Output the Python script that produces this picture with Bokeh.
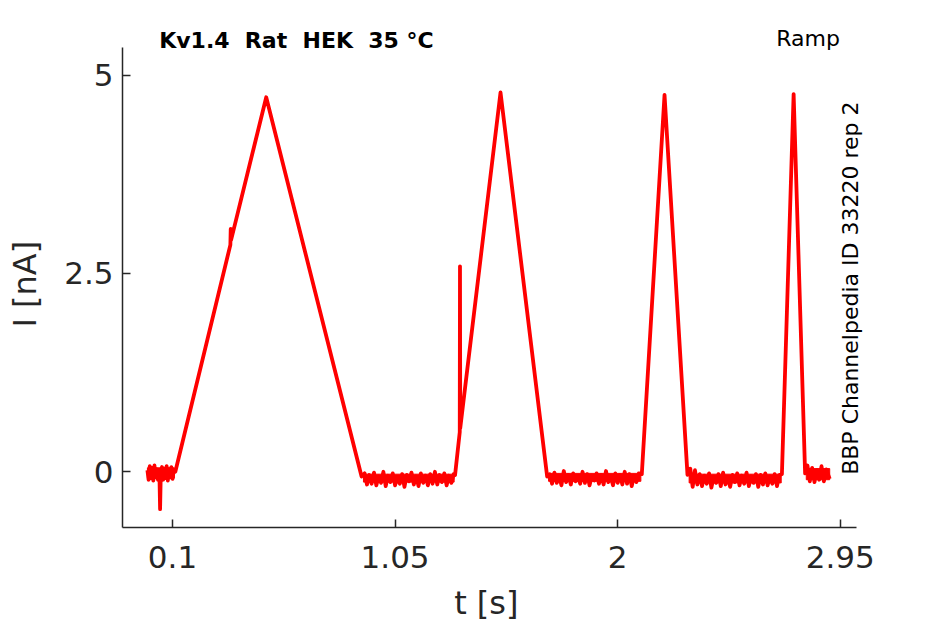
import math
from bokeh.plotting import figure
from bokeh.models import Range1d, FixedTicker, Label, ColumnDataSource
from bokeh.embed import file_html
from bokeh.resources import INLINE

# ---------------- data ----------------
title_text = "Kv1.4\u00a0 Rat\u00a0 HEK\u00a0 35 °C"
protocol_text = "Ramp"
side_text = "BBP Channelpedia ID 33220 rep 2"
x_label = "t [s]"
y_label = "I [nA]"
x_ticks = [0.1, 1.05, 2.0, 2.95]
x_tick_labels = ["0.1", "1.05", "2", "2.95"]
y_ticks = [0, 2.5, 5]
y_tick_labels = ["0", "2.5", "5"]

# holding period before the first ramp (s, nA)
pre_t = [-0.007, -0.002, 0.003, 0.008, 0.013, 0.018, 0.023, 0.028, 0.033, 0.038,
         0.044, 0.047, 0.050, 0.055, 0.060, 0.065, 0.070, 0.075, 0.080, 0.085,
         0.090, 0.095, 0.100, 0.105]
pre_i = [0.02, -0.10, 0.07, -0.08, 0.05, -0.11, 0.08, -0.07, 0.03, -0.10,
         0.00, -0.47, -0.02, 0.06, -0.10, 0.04, -0.08, 0.07, -0.11, 0.03,
         -0.07, 0.06, -0.09, 0.01]

# ramp 1 (slow)
ramp1_t = [0.112, 0.347, 0.3485, 0.350, 0.500, 0.907]
ramp1_i = [0.00, 2.86, 3.06, 2.92, 4.72, -0.06]

base1_t = [0.92, 0.93, 0.94, 0.95, 0.96, 0.97, 0.98, 0.99, 1.00, 1.01,
           1.02, 1.03, 1.04, 1.05, 1.06, 1.07, 1.08, 1.09, 1.10, 1.11,
           1.12, 1.13, 1.14, 1.15, 1.16, 1.17, 1.18, 1.19, 1.20, 1.21,
           1.22, 1.23, 1.24, 1.25, 1.26, 1.27, 1.28, 1.29, 1.30]
base1_i = [-0.02, -0.16, -0.04, -0.15, -0.01, -0.17, -0.06, -0.14, 0.00, -0.18,
           -0.05, -0.13, -0.02, -0.17, -0.07, -0.15, -0.03, -0.19, -0.04, -0.12,
           -0.01, -0.16, -0.06, -0.18, -0.02, -0.14, -0.05, -0.17, -0.03, -0.15,
           0.00, -0.16, -0.04, -0.13, -0.02, -0.17, -0.05, -0.14, -0.03]

# ramp 2 (with a one-sample artefact on the rising phase)
ramp2_t = [1.306, 1.326, 1.327, 1.328, 1.500, 1.699]
ramp2_i = [-0.04, 0.50, 2.59, 0.55, 4.78, -0.06]

base2_t = [1.71, 1.72, 1.73, 1.74, 1.75, 1.76, 1.77, 1.78, 1.79, 1.80,
           1.81, 1.82, 1.83, 1.84, 1.85, 1.86, 1.87, 1.88, 1.89, 1.90,
           1.91, 1.92, 1.93, 1.94, 1.95, 1.96, 1.97, 1.98, 1.99, 2.00,
           2.01, 2.02, 2.03, 2.04, 2.05, 2.06, 2.07, 2.08, 2.09]
base2_i = [-0.03, -0.15, -0.01, -0.14, -0.05, -0.17, 0.01, -0.13, -0.04, -0.16,
           -0.02, -0.12, -0.06, -0.15, 0.00, -0.14, -0.03, -0.17, -0.05, -0.11,
           -0.02, -0.15, -0.04, -0.16, 0.01, -0.13, -0.06, -0.17, -0.02, -0.14,
           -0.04, -0.16, 0.00, -0.15, -0.03, -0.18, -0.05, -0.13, -0.02]

# ramp 3
ramp3_t = [2.103, 2.200, 2.298]
ramp3_i = [-0.03, 4.75, -0.04]

base3_t = [2.31, 2.32, 2.33, 2.34, 2.35, 2.36, 2.37, 2.38, 2.39, 2.40,
           2.41, 2.42, 2.43, 2.44, 2.45, 2.46, 2.47, 2.48, 2.49, 2.50,
           2.51, 2.52, 2.53, 2.54, 2.55, 2.56, 2.57, 2.58, 2.59, 2.60,
           2.61, 2.62, 2.63, 2.64, 2.65, 2.66, 2.67, 2.68, 2.69]
base3_i = [0.04, -0.19, 0.02, -0.16, -0.03, -0.18, -0.05, -0.15, -0.02, -0.20,
           -0.06, -0.14, -0.03, -0.18, -0.01, -0.16, -0.07, -0.19, -0.04, -0.13,
           -0.02, -0.17, -0.05, -0.15, -0.01, -0.18, -0.06, -0.14, -0.03, -0.19,
           -0.04, -0.16, -0.02, -0.17, -0.06, -0.15, -0.03, -0.18, -0.04]

# ramp 4 (fast)
ramp4_t = [2.701, 2.751, 2.800]
ramp4_i = [-0.03, 4.76, -0.02]

base4_t = [2.81, 2.82, 2.83, 2.84, 2.85, 2.86, 2.87, 2.88, 2.89, 2.905]
base4_i = [0.08, -0.12, 0.05, -0.13, 0.02, -0.10, 0.07, -0.12, 0.03, -0.09]

# dense core of the noise band of the overlaid sweeps at holding potential
band_t0 = [-0.007, 0.915, 1.705, 2.305, 2.805]
band_t1 = [0.108, 1.302, 2.099, 2.698, 2.905]
band_lo = [-0.08, -0.13, -0.12, -0.14, -0.10]
band_hi = [0.05, -0.03, -0.02, -0.03, 0.04]

# ---------------- assemble trace ----------------
t_all = pre_t + ramp1_t + base1_t + ramp2_t + base2_t + ramp3_t + base3_t + ramp4_t + base4_t
i_all = pre_i + ramp1_i + base1_i + ramp2_i + base2_i + ramp3_i + base3_i + ramp4_i + base4_i
src = ColumnDataSource(data=dict(t=t_all, i=i_all))
band_src = ColumnDataSource(data=dict(left=band_t0, right=band_t1,
                                      bottom=band_lo, top=band_hi))

FONT = "DejaVu Sans"
DARK = "#262626"
PAD = "\u00a0\u00a0"           # keeps axis titles centred on the drawn axes

X0, X1 = -0.1134, 3.0213      # visible axis extent
Y0, Y1 = -0.702, 5.348
PX_X = 234.3                   # px per s
PX_Y = 79.35                   # px per nA
FW, FH = 748, 507              # frame (a bit larger than the axes, room for texts)

p = figure(frame_width=FW, frame_height=FH,
           x_range=Range1d(X0, X0 + FW / PX_X), y_range=Range1d(Y0, Y0 + FH / PX_Y),
           output_backend="svg", toolbar_location=None,
           min_border_left=122, min_border_top=20, min_border_right=20,
           min_border_bottom=110)
p.outline_line_color = None
p.grid.visible = False
p.background_fill_color = "white"
p.border_fill_color = "white"

p.quad(left="left", right="right", bottom="bottom", top="top", source=band_src,
       fill_color="#ff0000", line_color="#ff0000", line_width=1)
p.line("t", "i", source=src, line_color="#ff0000", line_width=3.8,
       line_join="round")

for ax in (p.xaxis[0], p.yaxis[0]):
    ax.axis_line_color = DARK
    ax.axis_line_width = 1.5
    ax.major_tick_line_color = DARK
    ax.major_tick_line_width = 1.5
    ax.major_tick_in = 8
    ax.major_tick_out = 0
    ax.minor_tick_line_color = None
    ax.major_label_text_font = FONT
    ax.major_label_text_font_size = "31px"
    ax.major_label_text_color = DARK
    ax.axis_label_text_font = FONT
    ax.axis_label_text_font_size = "32px"
    ax.axis_label_text_font_style = "normal"
    ax.axis_label_text_color = DARK

p.xaxis.bounds = (X0, X1)
p.yaxis.bounds = (Y0, Y1)
p.xaxis.ticker = FixedTicker(ticks=x_ticks)
p.xaxis.major_label_overrides = {k: v for k, v in zip(x_ticks, x_tick_labels)}
p.yaxis.ticker = FixedTicker(ticks=y_ticks)
p.yaxis.major_label_overrides = {k: v for k, v in zip(y_ticks, y_tick_labels)}
p.xaxis.axis_label = x_label + PAD
p.yaxis.axis_label = y_label + PAD
p.xaxis.major_label_standoff = 18
p.xaxis.axis_label_standoff = 13
p.yaxis.major_label_standoff = 9
p.yaxis.axis_label_standoff = 17

p.add_layout(Label(x=0.0432, y=5.441, text=title_text, text_font=FONT,
                   text_font_size="22px", text_font_style="bold",
                   text_color="black", text_align="left",
                   text_baseline="alphabetic"))
p.add_layout(Label(x=2.6766, y=5.457, text=protocol_text, text_font=FONT,
                   text_font_size="22px", text_color="black",
                   text_align="left", text_baseline="alphabetic"))
p.add_layout(Label(x=2.9925, y=-0.038, text=side_text, text_font=FONT,
                   text_font_size="22px", text_color="black",
                   angle=math.pi / 2, text_align="left",
                   text_baseline="alphabetic"))

open("out.html", "w").write(file_html(p, INLINE))
